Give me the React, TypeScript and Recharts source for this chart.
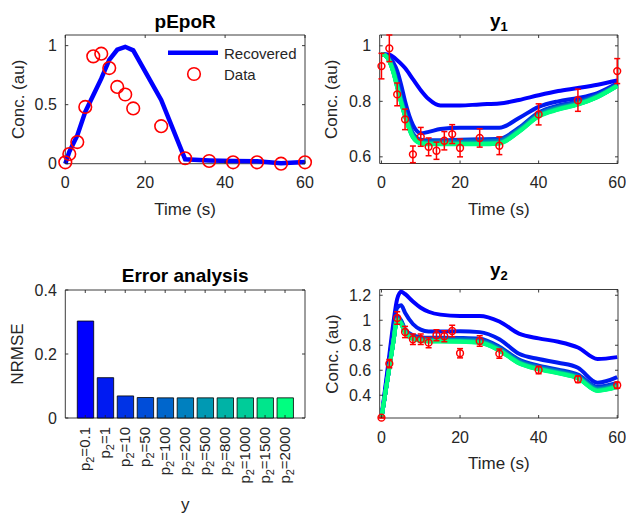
import React from "react";
import {
  ComposedChart,
  Line,
  Scatter,
  ErrorBar,
  Bar,
  Cell,
  XAxis,
  YAxis,
  ReferenceArea,
} from "recharts";

const W = 626;
const H = 520;
const FONT = '"Liberation Sans", Arial, Helvetica, sans-serif';
const AXIS = "#262626";
const RED = "#ff0000";
const BLUE = "#0000ff";
const TICK_FS = 16;

// p2 settings, one colour each (winter colormap, blue -> green)
const P2 = ["0.1", "1", "10", "50", "100", "200", "500", "800", "1000", "1500", "2000"];
const WINTER = [
  "rgb(0,0,255)",
  "rgb(0,26,242)",
  "rgb(0,51,230)",
  "rgb(0,77,217)",
  "rgb(0,102,204)",
  "rgb(0,128,191)",
  "rgb(0,153,179)",
  "rgb(0,179,166)",
  "rgb(0,204,153)",
  "rgb(0,230,140)",
  "rgb(0,255,128)",
];

// pEpoR: measured input and recovered trajectory
const PEPOR_T = [0, 1, 3, 5, 7, 9, 11, 13, 15, 17, 24, 30, 36, 42, 48, 54, 60];
const PEPOR_DATA = [0.012, 0.082, 0.183, 0.481, 0.909, 0.932, 0.81, 0.65, 0.586, 0.468, 0.318, 0.046, 0.023, 0.012, 0.012, 0.0, 0.012];
const PEPOR_RECOVERED = [0, 0.1, 0.24, 0.44, 0.58, 0.72, 0.88, 0.965, 0.99, 0.96, 0.54, 0.037, 0.028, 0.022, 0.02, 0.003, 0.015];

// observation times and data for y1 / y2
const OBS_T = [0, 2, 4, 6, 8, 10, 12, 14, 16, 18, 20, 25, 30, 40, 50, 60];
const Y1_DATA = [0.927, 0.991, 0.825, 0.735, 0.609, 0.672, 0.636, 0.622, 0.658, 0.682, 0.632, 0.668, 0.64, 0.753, 0.804, 0.909];
const Y1_ERR = [0.046, 0.048, 0.041, 0.037, 0.03, 0.034, 0.032, 0.031, 0.033, 0.034, 0.032, 0.033, 0.032, 0.038, 0.04, 0.045];
const Y2_DATA = [0.221, 0.653, 1.018, 0.906, 0.848, 0.848, 0.821, 0.88, 0.872, 0.914, 0.736, 0.834, 0.733, 0.602, 0.528, 0.48];
const Y2_ERR = [0.003, 0.033, 0.05, 0.045, 0.042, 0.042, 0.041, 0.044, 0.044, 0.046, 0.037, 0.042, 0.037, 0.03, 0.026, 0.024];

// simulated outputs for every p2 setting
const T_FIT = [0, 1, 2, 3, 4, 5, 6, 8, 10, 12, 15, 20, 25, 30, 35, 40, 45, 50, 55, 60];

const Y1_01 = [0.97, 0.97, 0.968, 0.96, 0.948, 0.935, 0.92, 0.88, 0.84, 0.808, 0.785, 0.785, 0.789, 0.792, 0.805, 0.822, 0.837, 0.848, 0.86, 0.875];
const Y1_1 = [0.97, 0.968, 0.958, 0.94, 0.91, 0.86, 0.8, 0.715, 0.685, 0.69, 0.7, 0.705, 0.705, 0.705, 0.74, 0.78, 0.8, 0.812, 0.83, 0.865];
const Y1_10 = [0.97, 0.967, 0.952, 0.92, 0.87, 0.815, 0.765, 0.685, 0.662, 0.66, 0.66, 0.662, 0.663, 0.665, 0.705, 0.76, 0.785, 0.8, 0.825, 0.862];
const Y1_50 = [0.97, 0.966, 0.95, 0.916, 0.865, 0.81, 0.76, 0.681, 0.658, 0.656, 0.656, 0.658, 0.659, 0.661, 0.701, 0.756, 0.781, 0.797, 0.823, 0.86];
const Y1_100 = [0.97, 0.966, 0.949, 0.914, 0.862, 0.807, 0.757, 0.679, 0.656, 0.654, 0.654, 0.655, 0.656, 0.658, 0.699, 0.754, 0.779, 0.795, 0.821, 0.859];
const Y1_200 = [0.97, 0.966, 0.948, 0.912, 0.859, 0.804, 0.754, 0.677, 0.654, 0.652, 0.652, 0.653, 0.653, 0.656, 0.697, 0.752, 0.777, 0.793, 0.82, 0.858];
const Y1_500 = [0.97, 0.966, 0.947, 0.91, 0.856, 0.801, 0.751, 0.675, 0.652, 0.65, 0.65, 0.65, 0.65, 0.653, 0.695, 0.75, 0.775, 0.792, 0.818, 0.857];
const Y1_800 = [0.97, 0.965, 0.946, 0.908, 0.854, 0.799, 0.749, 0.673, 0.651, 0.648, 0.648, 0.648, 0.649, 0.651, 0.693, 0.748, 0.773, 0.79, 0.817, 0.856];
const Y1_1000 = [0.97, 0.965, 0.946, 0.907, 0.853, 0.798, 0.748, 0.672, 0.65, 0.647, 0.647, 0.647, 0.647, 0.65, 0.692, 0.747, 0.772, 0.79, 0.816, 0.856];
const Y1_1500 = [0.97, 0.965, 0.945, 0.906, 0.851, 0.796, 0.746, 0.671, 0.649, 0.646, 0.646, 0.646, 0.646, 0.649, 0.691, 0.746, 0.771, 0.789, 0.816, 0.855];
const Y1_2000 = [0.97, 0.965, 0.945, 0.905, 0.85, 0.795, 0.745, 0.67, 0.648, 0.645, 0.645, 0.645, 0.645, 0.648, 0.69, 0.745, 0.77, 0.788, 0.815, 0.855];

const Y2_01 = [0.22, 0.47, 0.72, 0.97, 1.17, 1.228, 1.21, 1.15, 1.1, 1.068, 1.045, 1.035, 1.035, 0.99, 0.893, 0.855, 0.828, 0.782, 0.69, 0.705];
const Y2_1 = [0.22, 0.45, 0.68, 0.92, 1.1, 1.12, 1.06, 0.97, 0.925, 0.91, 0.91, 0.912, 0.905, 0.848, 0.732, 0.69, 0.66, 0.62, 0.5, 0.545];
const Y2_10 = [0.22, 0.42, 0.625, 0.83, 1.03, 1.0, 0.93, 0.88, 0.865, 0.86, 0.86, 0.858, 0.852, 0.788, 0.685, 0.637, 0.605, 0.565, 0.468, 0.498];
const Y2_50 = [0.22, 0.42, 0.624, 0.828, 1.022, 0.992, 0.922, 0.872, 0.857, 0.852, 0.852, 0.85, 0.843, 0.78, 0.677, 0.629, 0.597, 0.557, 0.459, 0.489];
const Y2_100 = [0.22, 0.42, 0.623, 0.826, 1.018, 0.988, 0.918, 0.868, 0.853, 0.848, 0.848, 0.846, 0.839, 0.776, 0.673, 0.625, 0.593, 0.553, 0.455, 0.485];
const Y2_200 = [0.22, 0.42, 0.622, 0.824, 1.013, 0.983, 0.913, 0.863, 0.848, 0.843, 0.843, 0.841, 0.834, 0.771, 0.668, 0.62, 0.588, 0.548, 0.449, 0.479];
const Y2_500 = [0.22, 0.42, 0.621, 0.823, 1.009, 0.979, 0.909, 0.859, 0.844, 0.839, 0.839, 0.837, 0.829, 0.766, 0.664, 0.616, 0.584, 0.544, 0.445, 0.475];
const Y2_800 = [0.22, 0.42, 0.621, 0.822, 1.006, 0.976, 0.906, 0.856, 0.841, 0.836, 0.836, 0.834, 0.826, 0.763, 0.661, 0.613, 0.581, 0.541, 0.442, 0.472];
const Y2_1000 = [0.22, 0.42, 0.62, 0.821, 1.004, 0.974, 0.904, 0.854, 0.839, 0.834, 0.834, 0.832, 0.824, 0.761, 0.659, 0.611, 0.579, 0.539, 0.439, 0.469];
const Y2_1500 = [0.22, 0.42, 0.62, 0.82, 1.002, 0.972, 0.902, 0.852, 0.837, 0.832, 0.832, 0.83, 0.822, 0.759, 0.657, 0.609, 0.577, 0.537, 0.437, 0.467];
const Y2_2000 = [0.22, 0.42, 0.62, 0.82, 1.0, 0.97, 0.9, 0.85, 0.835, 0.83, 0.83, 0.828, 0.82, 0.757, 0.655, 0.607, 0.575, 0.535, 0.435, 0.465];

const Y1_FITS = [Y1_01, Y1_1, Y1_10, Y1_50, Y1_100, Y1_200, Y1_500, Y1_800, Y1_1000, Y1_1500, Y1_2000];
const Y2_FITS = [Y2_01, Y2_1, Y2_10, Y2_50, Y2_100, Y2_200, Y2_500, Y2_800, Y2_1000, Y2_1500, Y2_2000];

// error of each p2 setting
const NRMSE = [0.303, 0.126, 0.069, 0.064, 0.063, 0.063, 0.063, 0.063, 0.063, 0.063, 0.063];

type Box = { left: number; top: number; right: number; bottom: number };

const BOX_A: Box = { left: 65.3, top: 35, right: 305, bottom: 163.7 };
const BOX_B: Box = { left: 379.7, top: 35, right: 618, bottom: 163.5 };
const BOX_C: Box = { left: 65.3, top: 290, right: 305, bottom: 418 };
const BOX_D: Box = { left: 379.7, top: 289.5, right: 618, bottom: 418 };

// the axes take this much room; the margins are reduced by the same amount
const X_AXIS_H = 30;
const Y_AXIS_W = 40;

const marginOf = (b: Box) => ({
  top: b.top,
  left: b.left - Y_AXIS_W,
  right: W - b.right,
  bottom: H - b.bottom - X_AXIS_H,
});

const fitRows = (fits: number[][]) =>
  T_FIT.map((t, i) => {
    const row: Record<string, number> = { t };
    fits.forEach((f, k) => {
      row[`s${k}`] = f[i];
    });
    return row;
  });

const obsRows = (vals: number[], errs: number[]) =>
  OBS_T.map((t, i) => ({ t, v: vals[i], err: errs[i] }));

// MATLAB-style ticks: pointing inwards on both sides of the box
function makeXTick(b: Box) {
  return (props: any) => {
    const { x, payload } = props;
    return (
      <g>
        <line x1={x} x2={x} y1={b.bottom} y2={b.bottom - 3} stroke={AXIS} strokeWidth={0.9} />
        <line x1={x} x2={x} y1={b.top} y2={b.top + 3} stroke={AXIS} strokeWidth={0.9} />
        <text
          x={x}
          y={b.bottom + 19}
          textAnchor="middle"
          dominantBaseline="central"
          fontSize={TICK_FS}
          fontFamily={FONT}
          fill={AXIS}
        >
          {String(payload.value)}
        </text>
      </g>
    );
  };
}

function makeYTick(b: Box) {
  return (props: any) => {
    const { y, payload } = props;
    return (
      <g>
        <line x1={b.left} x2={b.left + 3} y1={y} y2={y} stroke={AXIS} strokeWidth={0.9} />
        <line x1={b.right} x2={b.right - 3} y1={y} y2={y} stroke={AXIS} strokeWidth={0.9} />
        <text
          x={b.left - 8.5}
          y={y}
          textAnchor="end"
          dominantBaseline="central"
          fontSize={TICK_FS}
          fontFamily={FONT}
          fill={AXIS}
        >
          {String(payload.value)}
        </text>
      </g>
    );
  };
}

function barTick(props: any) {
  const { x, payload } = props;
  const b = BOX_C;
  const y = b.bottom + 9;
  return (
    <g>
      <line x1={x} x2={x} y1={b.bottom} y2={b.bottom - 3} stroke={AXIS} strokeWidth={0.9} />
      <line x1={x} x2={x} y1={b.top} y2={b.top + 3} stroke={AXIS} strokeWidth={0.9} />
      <text
        x={x}
        y={y}
        dy={5}
        transform={`rotate(-90 ${x} ${y})`}
        textAnchor="end"
        fontSize={15}
        fontFamily={FONT}
        fill={AXIS}
      >
        <tspan>p</tspan>
        <tspan fontSize={11} dy={4}>2</tspan>
        <tspan dy={-4}>{`=${P2[payload.value - 1]}`}</tspan>
      </text>
    </g>
  );
}

const bigCircle = (props: any) => (
  <circle cx={props.cx} cy={props.cy} r={6.3} fill="none" stroke={RED} strokeWidth={1.6} />
);
const smallCircle = (props: any) => (
  <circle cx={props.cx} cy={props.cy} r={3.4} fill="none" stroke={RED} strokeWidth={1.5} />
);

const layer: React.CSSProperties = { position: "absolute", left: 0, top: 0 };

const FIT_X: [number, number] = [-0.45, 60.2];

function FitPanel(props: {
  box: Box;
  fits: number[][];
  obs: { t: number; v: number; err: number }[];
  yDomain: [number, number];
  yTicks: number[];
}) {
  const { box, fits, obs, yDomain, yTicks } = props;
  return (
    <div style={layer}>
      <ComposedChart width={W} height={H} data={fitRows(fits)} margin={marginOf(box)}>
        <XAxis
          dataKey="t"
          type="number"
          domain={FIT_X}
          ticks={[0, 20, 40, 60]}
          interval={0}
          height={X_AXIS_H}
          tickLine={false}
          axisLine={false}
          tick={makeXTick(box)}
        />
        <YAxis
          type="number"
          domain={yDomain}
          ticks={yTicks}
          interval={0}
          width={Y_AXIS_W}
          tickLine={false}
          axisLine={false}
          tick={makeYTick(box)}
        />
        <ReferenceArea
          x1={FIT_X[0]}
          x2={FIT_X[1]}
          y1={yDomain[0]}
          y2={yDomain[1]}
          fill="none"
          stroke={AXIS}
          strokeWidth={0.9}
          ifOverflow="visible"
        />
        {fits.map((_, k) => (
          <Line
            key={k}
            dataKey={`s${k}`}
            type="monotone"
            stroke={WINTER[k]}
            strokeWidth={4}
            dot={false}
            activeDot={false}
            isAnimationActive={false}
          />
        ))}
        <Scatter data={obs} dataKey="v" shape={smallCircle} isAnimationActive={false}>
          <ErrorBar
            dataKey="err"
            direction="y"
            width={3}
            stroke={RED}
            strokeWidth={1.5}
            isAnimationActive={false}
          />
        </Scatter>
      </ComposedChart>
    </div>
  );
}

function PEpoRPanel() {
  const box = BOX_A;
  const recovered = PEPOR_T.map((t, i) => ({ t, v: PEPOR_RECOVERED[i] }));
  const measured = PEPOR_T.map((t, i) => ({ t, v: PEPOR_DATA[i] }));
  return (
    <div style={layer}>
      <ComposedChart width={W} height={H} data={recovered} margin={marginOf(box)}>
        <XAxis
          dataKey="t"
          type="number"
          domain={[0, 60]}
          ticks={[0, 20, 40, 60]}
          interval={0}
          height={X_AXIS_H}
          tickLine={false}
          axisLine={false}
          tick={makeXTick(box)}
        />
        <YAxis
          type="number"
          domain={[0, 1.09]}
          ticks={[0, 0.5, 1]}
          interval={0}
          width={Y_AXIS_W}
          tickLine={false}
          axisLine={false}
          tick={makeYTick(box)}
        />
        <ReferenceArea x1={0} x2={60} y1={0} y2={1.09} fill="none" stroke={AXIS} strokeWidth={0.9} ifOverflow="visible" />
        <Line
          dataKey="v"
          type="linear"
          stroke={BLUE}
          strokeWidth={4.5}
          dot={false}
          activeDot={false}
          isAnimationActive={false}
        />
        <Scatter data={measured} dataKey="v" shape={bigCircle} isAnimationActive={false} />
      </ComposedChart>
    </div>
  );
}

function ErrorPanel() {
  const box = BOX_C;
  const rows = NRMSE.map((v, i) => ({ x: i + 1, v }));
  return (
    <div style={layer}>
      <ComposedChart width={W} height={H} data={rows} margin={marginOf(box)}>
        <XAxis
          dataKey="x"
          type="number"
          domain={[0, 12]}
          ticks={rows.map((r) => r.x)}
          interval={0}
          height={X_AXIS_H}
          tickLine={false}
          axisLine={false}
          tick={barTick}
        />
        <YAxis
          type="number"
          domain={[0, 0.4]}
          ticks={[0, 0.2, 0.4]}
          interval={0}
          width={Y_AXIS_W}
          tickLine={false}
          axisLine={false}
          tick={makeYTick(box)}
        />
        <Bar dataKey="v" barSize={16.4} stroke="#000" strokeWidth={0.8} isAnimationActive={false}>
          {rows.map((r, i) => (
            <Cell key={r.x} fill={WINTER[i]} />
          ))}
        </Bar>
        <ReferenceArea x1={0} x2={12} y1={0} y2={0.4} fill="none" stroke={AXIS} strokeWidth={0.9} ifOverflow="visible" />
      </ComposedChart>
    </div>
  );
}

const labelText = { fontFamily: FONT, fill: AXIS, fontSize: 17 };
const titleText = { fontFamily: FONT, fill: "#000", fontSize: 19, fontWeight: "bold" as const };

function Annotations() {
  const midA = (BOX_A.left + BOX_A.right) / 2;
  const midB = (BOX_B.left + BOX_B.right) / 2;
  const midTop = (BOX_A.top + BOX_A.bottom) / 2;
  const midBottom = (BOX_C.top + BOX_C.bottom) / 2;
  return (
    <svg width={W} height={H} style={{ ...layer, pointerEvents: "none" }}>
      {/* titles */}
      <text x={midA} y={28} textAnchor="middle" {...titleText}>pEpoR</text>
      <text x={midB} y={27} textAnchor="middle" {...titleText}>
        y<tspan fontSize={13} dy={4}>1</tspan>
      </text>
      <text x={midA} y={282} textAnchor="middle" {...titleText}>Error analysis</text>
      <text x={midB} y={276} textAnchor="middle" {...titleText}>
        y<tspan fontSize={13} dy={4}>2</tspan>
      </text>

      {/* x labels */}
      <text x={midA} y={215} textAnchor="middle" {...labelText}>Time (s)</text>
      <text x={midB} y={215} textAnchor="middle" {...labelText}>Time (s)</text>
      <text x={midA} y={510} textAnchor="middle" {...labelText}>y</text>
      <text x={midB} y={469} textAnchor="middle" {...labelText}>Time (s)</text>

      {/* y labels */}
      <text x={19} y={midTop} textAnchor="middle" dominantBaseline="central" transform={`rotate(-90 19 ${midTop})`} {...labelText}>
        Conc. (au)
      </text>
      <text x={332} y={midTop} textAnchor="middle" dominantBaseline="central" transform={`rotate(-90 332 ${midTop})`} {...labelText}>
        Conc. (au)
      </text>
      <text x={17} y={midBottom} textAnchor="middle" dominantBaseline="central" transform={`rotate(-90 17 ${midBottom})`} {...labelText}>
        NRMSE
      </text>
      <text x={332} y={midBottom} textAnchor="middle" dominantBaseline="central" transform={`rotate(-90 332 ${midBottom})`} {...labelText}>
        Conc. (au)
      </text>

      {/* pEpoR legend */}
      <line x1={168} x2={218} y1={52.7} y2={52.7} stroke={BLUE} strokeWidth={4.5} />
      <text x={224} y={53} dominantBaseline="central" {...labelText} fontSize={15}>Recovered</text>
      <circle cx={194} cy={74} r={6.3} fill="none" stroke={RED} strokeWidth={1.6} />
      <text x={224} y={74} dominantBaseline="central" {...labelText} fontSize={15}>Data</text>
    </svg>
  );
}

export default function App() {
  return (
    <div style={{ position: "absolute", left: 0, top: 0, width: W, height: H, background: "#fff", fontFamily: FONT }}>
      <PEpoRPanel />
      <FitPanel
        box={BOX_B}
        fits={Y1_FITS}
        obs={obsRows(Y1_DATA, Y1_ERR)}
        yDomain={[0.576, 1.039]}
        yTicks={[0.6, 0.8, 1]}
      />
      <ErrorPanel />
      <FitPanel
        box={BOX_D}
        fits={Y2_FITS}
        obs={obsRows(Y2_DATA, Y2_ERR)}
        yDomain={[0.218, 1.246]}
        yTicks={[0.4, 0.6, 0.8, 1, 1.2]}
      />
      <Annotations />
    </div>
  );
}
